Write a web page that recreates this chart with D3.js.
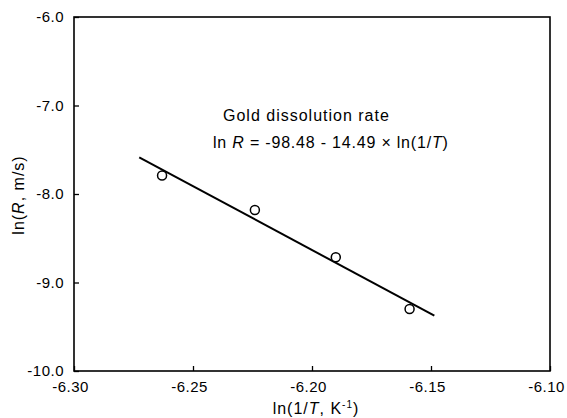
<!DOCTYPE html>
<html>
<head>
<meta charset="utf-8">
<script src="https://cdn.jsdelivr.net/npm/d3@7"></script>
<style>
  body { margin: 0; background: #fff; }
  text { font-family: "Liberation Sans", Arial, sans-serif; fill: #000; }
</style>
</head>
<body>
<div id="chart"></div>
<script>
// data
const xData = [-6.263, -6.224, -6.190, -6.159];
const yData = [-7.79, -8.18, -8.715, -9.30];
// fitted line ends
const fitX = [-6.2726, -6.1486];
const fitY = [-7.585, -9.375];
const xTicks = [-6.30, -6.25, -6.20, -6.15, -6.10];
const yTicks = [-6.0, -7.0, -8.0, -9.0, -10.0];

const W = 567, H = 418;
const margin = { top: 17, right: 17, bottom: 47, left: 74 };
const width = W - margin.left - margin.right;
const height = H - margin.top - margin.bottom;

const x = d3.scaleLinear().domain([-6.30, -6.10]).range([0, width]);
const y = d3.scaleLinear().domain([-10, -6]).range([height, 0]);

const svg = d3.select("#chart").append("svg")
  .attr("width", W).attr("height", H);
const g = svg.append("g").attr("transform", `translate(${margin.left},${margin.top})`);

// frame
g.append("rect")
  .attr("width", width).attr("height", height)
  .attr("fill", "none").attr("stroke", "#000").attr("stroke-width", 1.6);

// axes with inward ticks
g.append("g")
  .attr("transform", `translate(0,${height})`)
  .call(d3.axisBottom(x).tickValues(xTicks).tickSizeInner(-5).tickSizeOuter(0)
    .tickPadding(10).tickFormat(d => d.toFixed(2)))
  .call(a => a.select(".domain").remove())
  .call(a => a.selectAll("line").attr("stroke-width", 1.3))
  .call(a => a.selectAll("text").attr("dx", -4).style("font-size", "15px").style("letter-spacing", "0.5px"));

g.append("g")
  .call(d3.axisLeft(y).tickValues(yTicks).tickSizeInner(-5).tickSizeOuter(0)
    .tickPadding(10).tickFormat(d => d.toFixed(1)))
  .call(a => a.select(".domain").remove())
  .call(a => a.selectAll("line").attr("stroke-width", 1.3))
  .call(a => a.selectAll("text").style("font-size", "15px").style("letter-spacing", "0.5px"));

// fit line
g.append("line")
  .attr("x1", x(fitX[0])).attr("y1", y(fitY[0]))
  .attr("x2", x(fitX[1])).attr("y2", y(fitY[1]))
  .attr("stroke", "#000").attr("stroke-width", 2);

// points
g.selectAll("circle.pt")
  .data(xData.map((d, i) => [d, yData[i]]))
  .join("circle")
  .attr("class", "pt")
  .attr("cx", d => x(d[0])).attr("cy", d => y(d[1]))
  .attr("r", 4.5)
  .attr("fill", "#fff").attr("stroke", "#000").attr("stroke-width", 1.5);

// annotations
svg.append("text")
  .attr("x", 223).attr("y", 121)
  .style("font-size", "16px").style("letter-spacing", "1px")
  .text("Gold dissolution rate");

const eq = svg.append("text")
  .attr("x", 213).attr("y", 148)
  .style("font-size", "16px").style("letter-spacing", "0.8px");
eq.append("tspan").text("ln ");
eq.append("tspan").style("font-style", "italic").text("R");
eq.append("tspan").text(" = -98.48 - 14.49 × ln(1/");
eq.append("tspan").style("font-style", "italic").text("T");
eq.append("tspan").text(")");

// axis titles
const xt = svg.append("text")
  .attr("x", 316).attr("y", 414)
  .attr("text-anchor", "middle")
  .style("font-size", "16px").style("letter-spacing", "1px");
xt.append("tspan").text("ln(1/");
xt.append("tspan").style("font-style", "italic").text("T");
xt.append("tspan").text(", K");
xt.append("tspan").attr("dy", -6).style("font-size", "10px").text("-1");
xt.append("tspan").attr("dy", 6).text(")");

const yt = svg.append("text")
  .attr("transform", "translate(24,195) rotate(-90)")
  .attr("text-anchor", "middle")
  .style("font-size", "16px").style("letter-spacing", "1px");
yt.append("tspan").text("ln(");
yt.append("tspan").style("font-style", "italic").text("R");
yt.append("tspan").text(", m/s)");
</script>
</body>
</html>
